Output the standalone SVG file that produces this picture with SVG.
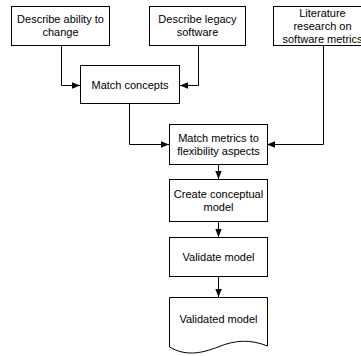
<svg xmlns="http://www.w3.org/2000/svg" width="361" height="356" viewBox="0 0 361 356">
<style>
.box{fill:#fff;stroke:#000;stroke-width:1}
.t{font-family:"Liberation Sans",Arial,sans-serif;font-size:11px;fill:#000;text-anchor:middle}
.c{fill:none;stroke:#000;stroke-width:1}
</style>
<defs>
<marker id="ah" markerUnits="userSpaceOnUse" markerWidth="8" markerHeight="8" viewBox="0 0 8 8" refX="8" refY="4" orient="auto">
<path d="M0,0.8 L8,4 L0,7.2 Z" fill="#000"/>
</marker>
</defs>
<rect width="361" height="356" fill="#fff"/>
<g id="connectors">
<path class="c" d="M61.5,46 V85.5 H80" marker-end="url(#ah)"/>
<path class="c" d="M198.5,46 V85.5 H180" marker-end="url(#ah)"/>
<path class="c" d="M129.5,104 V144.5 H169" marker-end="url(#ah)"/>
<path class="c" d="M323.5,46 V144.5 H267" marker-end="url(#ah)"/>
<path class="c" d="M218.5,165 V179" marker-end="url(#ah)"/>
<path class="c" d="M218.5,222 V237" marker-end="url(#ah)"/>
<path class="c" d="M218.5,277 V297" marker-end="url(#ah)"/>
</g>
<g id="n1">
<rect class="box" x="11.5" y="6.5" width="98" height="39"/>
<text class="t" x="60.5" y="23">Describe ability to</text>
<text class="t" x="60.5" y="36">change</text>
</g>
<g id="n2">
<rect class="box" x="149.5" y="6.5" width="96" height="39"/>
<text class="t" x="197.5" y="23">Describe legacy</text>
<text class="t" x="197.5" y="36">software</text>
</g>
<g id="n3">
<rect class="box" x="273.5" y="6.5" width="98" height="39"/>
<text class="t" x="322.5" y="17">Literature</text>
<text class="t" x="322.5" y="30">research on</text>
<text class="t" x="322.5" y="43">software metrics</text>
</g>
<g id="n4">
<rect class="box" x="80.5" y="65.5" width="99" height="38"/>
<text class="t" x="130" y="89">Match concepts</text>
</g>
<g id="n5">
<rect class="box" x="169.5" y="124.5" width="98" height="40"/>
<text class="t" x="218.5" y="142">Match metrics to</text>
<text class="t" x="218.5" y="155">flexibility aspects</text>
</g>
<g id="n6">
<rect class="box" x="169.5" y="179.5" width="98" height="42"/>
<text class="t" x="218.5" y="198">Create conceptual</text>
<text class="t" x="218.5" y="211">model</text>
</g>
<g id="n7">
<rect class="box" x="169.5" y="237.5" width="98" height="39"/>
<text class="t" x="218.5" y="261">Validate model</text>
</g>
<g id="n8">
<path class="box" d="M169.5,297.5 H267.5 V346 C250,339 235,340 218,347 C200,354 185,356 169.5,347 Z"/>
<text class="t" x="218.5" y="323">Validated model</text>
</g>
</svg>
